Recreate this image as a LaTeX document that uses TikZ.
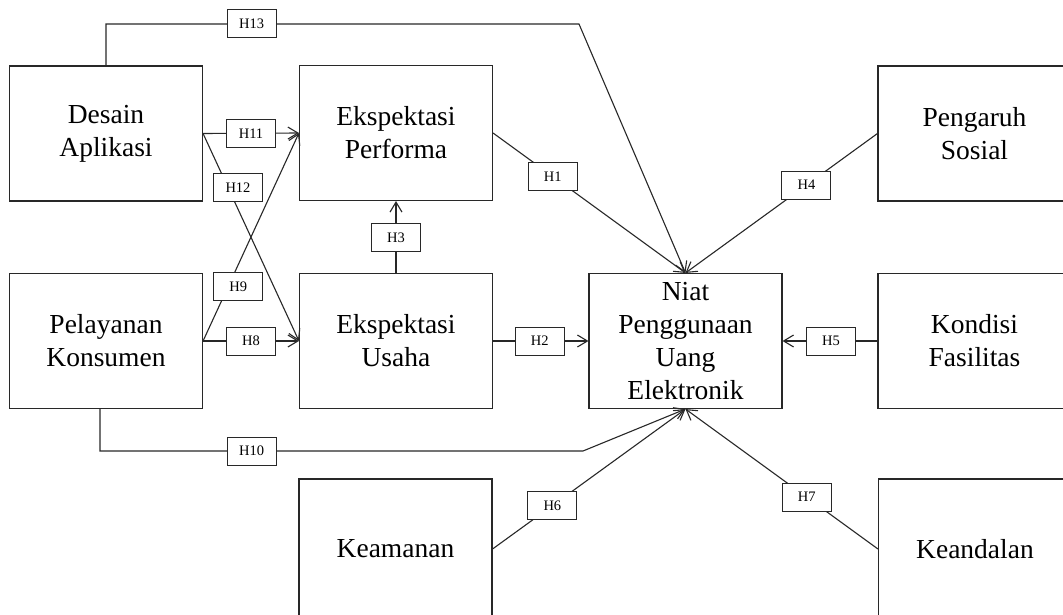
\documentclass[tikz,border=0pt]{standalone}
\usepackage{fontspec}
\setmainfont{Liberation Serif}
\usetikzlibrary{arrows.meta}
\definecolor{linec}{RGB}{40,40,40}
\tikzset{
  box/.style={draw=linec, line width=1.1pt, minimum width=193pt, minimum height=135pt,
    font=\fontsize{27.5}{33}\selectfont, align=center, inner sep=0pt, text=black},
  lowbox/.style={box, minimum height=140pt},
  lbl/.style={draw=linec, fill=white, line width=1pt, minimum width=49pt, minimum height=28pt,
    font=\fontsize{14.5}{16}\selectfont, inner sep=0pt, text=black},
  conn/.style={draw=linec, line width=1.1pt},
  arr/.style={conn, -{Straight Barb[length=10pt,width=12pt,line width=1.1pt]}}
}
\begin{document}
\begin{tikzpicture}[x=1pt,y=-1pt]
\useasboundingbox (0,0) rectangle (1063,615);
\clip (0,0) rectangle (1063,615);
\fill[white] (0,0) rectangle (1063,615);
% boxes
\node[box] (desain) at (106,133.5) {Desain\\Aplikasi};
\node[box] (perf) at (396,133) {Ekspektasi\\Performa};
\node[box] (pelayanan) at (106,341) {Pelayanan\\Konsumen};
\node[box] (usaha) at (396,341) {Ekspektasi\\Usaha};
\node[box] (niat) at (685.5,341) {Niat\\Penggunaan\\Uang\\Elektronik};
\node[box] (pengaruh) at (974.5,133.5) {Pengaruh\\Sosial};
\node[box] (kondisi) at (974.5,341) {Kondisi\\Fasilitas};
\node[lowbox] (keamanan) at (395.5,549) {Keamanan};
\node[lowbox] (keandalan) at (975,549) {Keandalan};
% helper coordinates
\coordinate (c13) at (579,24);
\coordinate (c10) at (583,451);
\coordinate (s10) at (100,409);
% connectors
\draw[arr] (perf.east) -- node[lbl,pos=0.31] (l1) {H1} (niat.north);
\draw[arr] (pengaruh.west) -- node[lbl,pos=0.37] (l4) {H4} (niat.north);
\draw[arr] (usaha.east) -- node[lbl,pos=0.49] (l2) {H2} (niat.west);
\draw[arr] (kondisi.west) -- node[lbl,pos=0.49] (l5) {H5} (niat.east);
\draw[arr] (keamanan.east) -- node[lbl,pos=0.31] (l6) {H6} (niat.south);
\draw[arr] (keandalan.west) -- node[lbl,pos=0.37] (l7) {H7} (niat.south);
\draw[arr] (usaha.north) -- node[lbl,pos=0.49] (l3) {H3} (perf.south);
\draw[arr] (desain.east) -- node[lbl,pos=0.5] (l11) {H11} (perf.west);
\draw[arr] (pelayanan.east) -- node[lbl,pos=0.5] (l8) {H8} (usaha.west);
\draw[arr] (desain.east) -- node[lbl,pos=0.26,xshift=10pt] (l12) {H12} (usaha.west);
\draw[arr] (pelayanan.east) -- node[lbl,pos=0.262,xshift=10pt] (l9) {H9} (perf.west);
\draw[arr] (desain.north) -- (desain.north |- c13) -- node[lbl,pos=0.308] (l13) {H13} (c13) -- (niat.north);
\draw[arr] (s10) -- (s10 |- c10) -- node[lbl,pos=0.314] (l10) {H10} (c10) -- (niat.south);
\end{tikzpicture}
\end{document}
